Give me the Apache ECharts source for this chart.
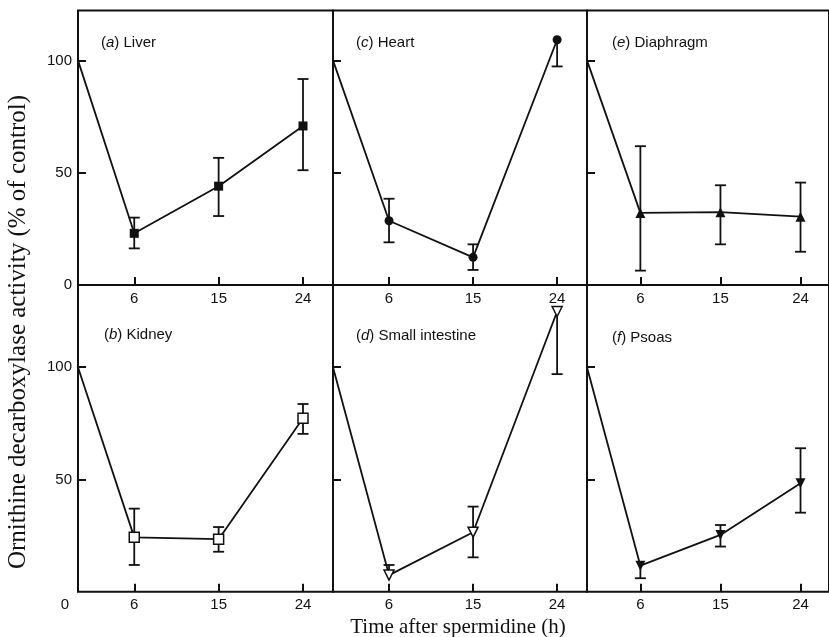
<!DOCTYPE html>
<html>
<head>
<meta charset="utf-8">
<script src="https://cdn.jsdelivr.net/npm/echarts@6/dist/echarts.min.js"></script>
<style>html,body{margin:0;padding:0;background:#fff}#c{width:829px;height:637px}</style>
</head>
<body>
<div id="c"></div>
<script>
// Shared x values (h after spermidine); 0 h = control (100 %)
var times = [0, 6, 15, 24];
var xTicks = [6, 15, 24];

// Panel labels
var panelLetters = ['a', 'c', 'e', 'b', 'd', 'f'];
var panelNames = ['Liver', 'Heart', 'Diaphragm', 'Kidney', 'Small intestine', 'Psoas'];

// Means (% of control)
var liver     = [100, 23.0, 44.0, 70.8];
var heart     = [100, 28.6, 12.3, 109.2];
var diaphragm = [100, 32.1, 32.4, 30.4];
var kidney    = [100, 24.2, 23.4, 77.3];
var intestine = [100, 7.4, 26.5, 124.8];
var psoas     = [100, 11.6, 25.3, 48.3];

// Error bar ends (null = not drawn)
var liverLow      = [null, 16.3, 30.7, 51.1];
var liverHigh     = [null, 30.0, 56.6, 91.7];
var heartLow      = [null, 19.0, 6.7, 97.3];
var heartHigh     = [null, 38.4, 18.1, null];
var diaphragmLow  = [null, 6.4, 18.1, 14.8];
var diaphragmHigh = [null, 61.8, 44.4, 45.6];
var kidneyLow     = [null, 11.9, 17.8, 70.3];
var kidneyHigh    = [null, 37.0, 28.8, 83.6];
var intestineLow  = [null, null, 15.3, 96.9];
var intestineHigh = [null, 11.9, 37.9, null];
var psoasLow      = [null, 6.0, 20.1, 35.2];
var psoasHigh     = [null, null, 29.7, 63.9];

var yTicks = [50, 100];
var yLabelsTop = [0, 50, 100];
var yLabelsBottom = [50, 100];

var means = [liver, heart, diaphragm, kidney, intestine, psoas];
var lows = [liverLow, heartLow, diaphragmLow, kidneyLow, intestineLow, psoasLow];
var highs = [liverHigh, heartHigh, diaphragmHigh, kidneyHigh, intestineHigh, psoasHigh];

var INK = '#111';
var SANS = '"Liberation Sans", Arial, Helvetica, sans-serif';
var SERIF = '"Liberation Serif", "Times New Roman", serif';
var FS = 15;

var colLeft = [78, 333, 587];
var colWidth = [255, 254, 254];
var rowTop = [10.5, 285];
var rowHeight = [274.5, 306.7];
var rowMax = [122.2, 136.6];

var markers = [
  {symbol: 'rect', rotate: 0, fill: INK, size: 9},
  {symbol: 'circle', rotate: 0, fill: INK, size: 9},
  {symbol: 'triangle', rotate: 0, fill: INK, size: 10},
  {symbol: 'rect', rotate: 0, fill: '#fff', size: 10},
  {symbol: 'triangle', rotate: 180, fill: '#fff', size: 10},
  {symbol: 'triangle', rotate: 180, fill: INK, size: 10}
];
var titlePos = [[101, 35], [356, 35], [612, 35], [104, 327], [356, 328], [612, 330]];

var grids = [], xAxes = [], yAxes = [], series = [], titles = [];

for (var p = 0; p < 6; p++) {
  var row = p < 3 ? 0 : 1, col = p % 3;
  grids.push({
    left: colLeft[col], top: rowTop[row], width: colWidth[col], height: rowHeight[row],
    show: true, borderColor: INK, borderWidth: 2, backgroundColor: 'transparent'
  });
  var isBL = (p === 3);
  xAxes.push({
    type: 'value', gridIndex: p, min: 0, max: 27.2,
    axisLine: {show: false}, splitLine: {show: false},
    axisTick: {show: true, inside: true, length: 8, lineStyle: {color: INK, width: 2}, customValues: xTicks},
    axisLabel: {
      show: true, customValues: isBL ? [0].concat(xTicks) : xTicks, margin: 6,
      color: INK, fontSize: FS, fontFamily: SANS,
      formatter: (function (bl) { return function (v) { return (bl && v === 0) ? '{z|0}' : String(v); }; })(isBL),
      rich: {z: {padding: [0, 26, 0, 0], fontSize: FS, fontFamily: SANS, color: INK}}
    }
  });
  yAxes.push({
    type: 'value', gridIndex: p, min: 0, max: rowMax[row],
    axisLine: {show: false}, splitLine: {show: false},
    axisTick: {show: true, inside: true, length: 8, lineStyle: {color: INK, width: 2}, customValues: yTicks},
    axisLabel: {
      show: col === 0, customValues: row === 0 ? yLabelsTop : yLabelsBottom, margin: 6,
      color: INK, fontSize: FS, fontFamily: SANS
    }
  });
  var m = markers[p];
  var lineData = [];
  for (var i = 0; i < times.length; i++) {
    var item = {value: [times[i], means[p][i]]};
    if (i === 0) item.symbol = 'none';
    lineData.push(item);
  }
  // error bars
  var errData = [];
  for (var j = 0; j < times.length; j++) {
    if (lows[p][j] === null && highs[p][j] === null) continue;
    errData.push([times[j], means[p][j], lows[p][j] === null ? means[p][j] : lows[p][j],
      highs[p][j] === null ? means[p][j] : highs[p][j],
      lows[p][j] === null ? 0 : 1, highs[p][j] === null ? 0 : 1]);
  }
  series.push({
    type: 'custom', xAxisIndex: p, yAxisIndex: p, z: 2, clip: false,
    data: errData,
    renderItem: function (params, api) {
      var x = api.value(0);
      var c = api.coord([x, api.value(1)]);
      var lo = api.coord([x, api.value(2)]);
      var hi = api.coord([x, api.value(3)]);
      var hw = 5.5;
      var style = {stroke: INK, lineWidth: 1.8, fill: null};
      var ch = [{type: 'line', shape: {x1: c[0], y1: lo[1], x2: c[0], y2: hi[1]}, style: style}];
      if (api.value(4)) ch.push({type: 'line', shape: {x1: c[0] - hw, y1: lo[1], x2: c[0] + hw, y2: lo[1]}, style: style});
      if (api.value(5)) ch.push({type: 'line', shape: {x1: c[0] - hw, y1: hi[1], x2: c[0] + hw, y2: hi[1]}, style: style});
      return {type: 'group', children: ch};
    }
  });
  series.push({
    type: 'line', xAxisIndex: p, yAxisIndex: p, z: 3, clip: false,
    data: lineData, symbol: m.symbol, symbolSize: m.size, symbolRotate: m.rotate,
    showAllSymbol: true, animation: false,
    lineStyle: {color: INK, width: 1.8},
    itemStyle: {color: m.fill, borderColor: INK, borderWidth: m.fill === '#fff' ? 1.5 : 0}
  });
  titles.push({
    text: '({i|' + panelLetters[p] + '}) ' + panelNames[p],
    left: titlePos[p][0], top: titlePos[p][1], padding: 0,
    textStyle: {
      color: INK, fontSize: FS, fontWeight: 'normal', fontFamily: SANS,
      rich: {i: {fontStyle: 'italic', fontSize: FS, fontFamily: SANS, color: INK}}
    }
  });
}

var chart = echarts.init(document.getElementById('c'), null, {renderer: 'canvas'});
chart.setOption({
  animation: false,
  backgroundColor: '#fff',
  title: titles,
  grid: grids,
  xAxis: xAxes,
  yAxis: yAxes,
  series: series,
  graphic: [
    {type: 'text', x: 18, y: 332, rotation: Math.PI / 2,
      style: {text: 'Ornithine decarboxylase activity (% of control)', fill: INK,
        font: '25px ' + SERIF, textAlign: 'center', textVerticalAlign: 'middle'}},
    {type: 'text', x: 458, y: 627,
      style: {text: 'Time after spermidine (h)', fill: INK,
        font: '21px ' + SERIF, textAlign: 'center', textVerticalAlign: 'middle'}}
  ]
});
</script>
</body>
</html>
